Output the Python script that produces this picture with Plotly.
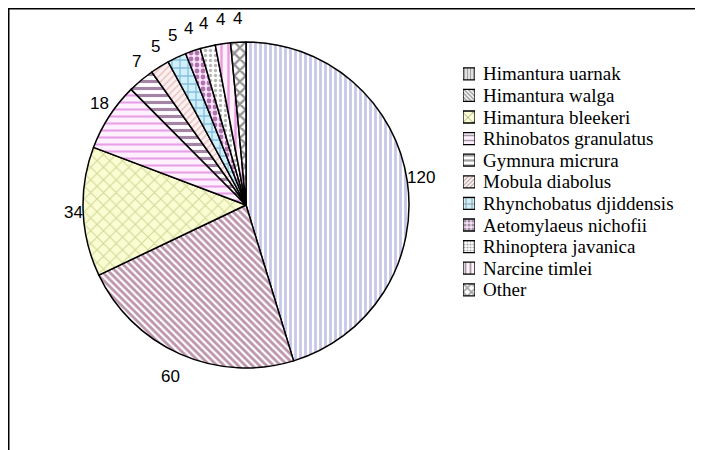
import math
import plotly.graph_objects as go

species = ["Himantura uarnak", "Himantura walga", "Himantura bleekeri",
           "Rhinobatos granulatus", "Gymnura micrura", "Mobula diabolus",
           "Rhynchobatus djiddensis", "Aetomylaeus nichofii", "Rhinoptera javanica",
           "Narcine timlei", "Other"]
counts = [120, 60, 34, 18, 7, 5, 5, 4, 4, 4, 4]

pattern_shapes = ["|", "\\", "x", "-", "-", "/", "+", ".", ".", "|", "x"]
fg_colors = ["#8f8fd2", "#7c2c58", "#aab65e", "#d050d0", "#4c0c4c", "#d09898",
             "#3f8cbc", "#62085f", "#6e6e6e", "#d448c4", "#2a2a2a"]
bg_colors = ["#ffffff", "#ffffff", "#fafcd2", "#fff0ff", "#ffffff", "#fff0f0",
             "#d0f0fc", "#fbe2fb", "#ffffff", "#fff2fc", "#ffffff"]
pattern_sizes = [5, 5, 9, 7, 7, 5, 8, 6, 5, 7, 8]
solidities = [0.55, 0.55, 0.22, 0.3, 0.45, 0.3, 0.3, 0.5, 0.35, 0.35, 0.5]

W, H = 703, 450
# page body adds an 8px offset; target positions below are in figure px
cx, cy, r = 238, 197, 163

fig = go.Figure()

fig.add_trace(go.Pie(
    labels=species,
    values=counts,
    sort=False,
    direction="clockwise",
    rotation=0,
    textinfo="none",
    showlegend=False,
    marker=dict(
        colors=bg_colors,
        line=dict(color="#000000", width=1.5),
        pattern=dict(shape=pattern_shapes, fgcolor=fg_colors, bgcolor=bg_colors,
                     size=pattern_sizes, solidity=solidities, fillmode="overlay"),
    ),
    domain=dict(x=[(cx - r) / W, (cx + r) / W], y=[(H - cy - r) / H, (H - cy + r) / H]),
    hoverinfo="label+value",
))

# legend drawn as a small bar chart: swatches + category tick labels
fig.add_trace(go.Bar(
    y=species, x=[1] * len(species), orientation="h",
    marker=dict(
        color=bg_colors,
        line=dict(color="#000000", width=1.3),
        pattern=dict(shape=pattern_shapes, fgcolor=fg_colors, bgcolor=bg_colors,
                     size=[max(3, s - 2) for s in pattern_sizes], solidity=solidities,
                     fillmode="overlay"),
    ),
    showlegend=False, hoverinfo="y", xaxis="x", yaxis="y",
))

# value labels placed just outside each slice
total = sum(counts)
annotations = []
cum = 0
for v in counts:
    mid = (cum + v / 2) / total * 2 * math.pi
    cum += v
    s, c = math.sin(mid), math.cos(mid)
    txt = str(v)
    half_w = 4.7 * len(txt)
    dx = r * s + half_w * math.copysign(min(1.0, 4 * abs(s)), s)
    dy = (r + 24) * c
    annotations.append(dict(
        x=(cx + dx) / W, y=(H - cy + dy) / H, xref="paper", yref="paper",
        text=txt, showarrow=False, xanchor="center", yanchor="middle",
        font=dict(family="Liberation Sans, Arial, sans-serif", size=17, color="#000000"),
    ))

leg_top, leg_step, sw = 55, 21.6, 12
leg_x0 = 455
fig.update_layout(
    width=W, height=H,
    margin=dict(l=0, r=0, t=0, b=0, autoexpand=False),
    paper_bgcolor="#ffffff",
    plot_bgcolor="rgba(0,0,0,0)",
    showlegend=False,
    bargap=1 - sw / leg_step,
    xaxis=dict(domain=[leg_x0 / W, (leg_x0 + sw) / W], range=[0, 1], visible=False, fixedrange=True),
    yaxis=dict(
        domain=[(H - leg_top - leg_step * len(species)) / H, (H - leg_top) / H],
        autorange="reversed", side="right", anchor="x",
        tickmode="array", tickvals=species, ticktext=species,
        showgrid=False, zeroline=False, showline=False, ticks="",
        ticklabelstandoff=7,
        tickfont=dict(family="Liberation Serif, serif", size=19, color="#000000"),
        fixedrange=True,
    ),
    annotations=annotations,
    shapes=[
        dict(type="line", xref="paper", yref="paper", x0=0, x1=1, y0=1, y1=1,
             line=dict(color="#000000", width=3)),
        dict(type="line", xref="paper", yref="paper", x0=0, x1=0, y0=0, y1=1,
             line=dict(color="#000000", width=3)),
    ],
)

fig.write_html("out.html")
